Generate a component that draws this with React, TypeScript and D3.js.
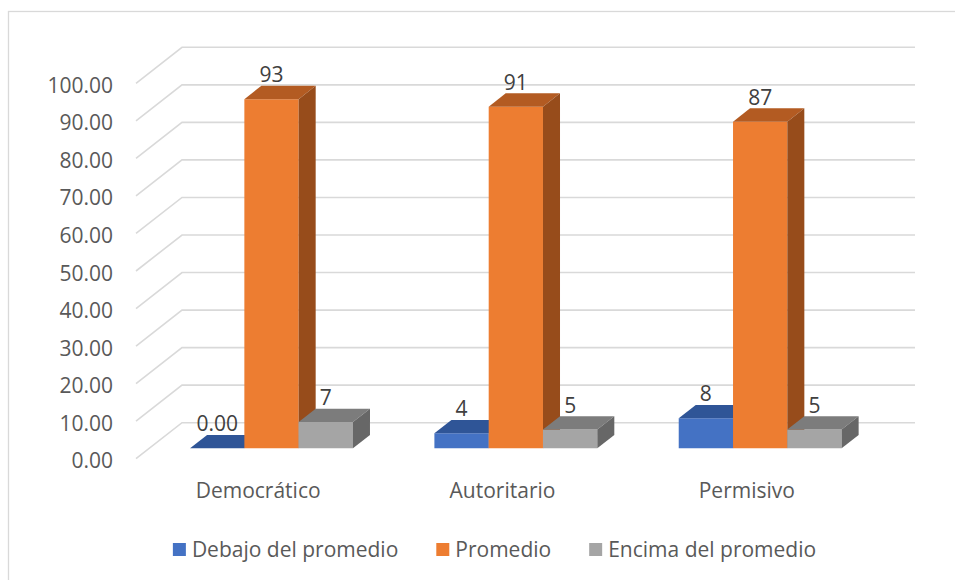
import { useEffect, useRef } from 'react'
import * as d3 from 'd3'

const categories = ['Democrático', 'Autoritario', 'Permisivo']
const seriesNames = ['Debajo del promedio', 'Promedio', 'Encima del promedio']
const debajo = [0, 4, 8]
const promedio = [93, 91, 87]
const encima = [7, 5, 5]
const yTicks = [0, 10, 20, 30, 40, 50, 60, 70, 80, 90, 100]

const seriesValues = [debajo, promedio, encima]
const faceColors = [
  { front: '#4472C4', top: '#2F5597', side: '#2B4E8C' },
  { front: '#ED7D31', top: '#B35B22', side: '#974C1B' },
  { front: '#A5A5A5', top: '#7C7C7C', side: '#676767' },
]

const W = 955
const H = 580
const FONT = '"Open Sans", "Noto Sans", sans-serif'

export default function App() {
  const svgRef = useRef<SVGSVGElement>(null)

  useEffect(() => {
    if (!svgRef.current) return
    const svg = d3.select(svgRef.current)
    svg.selectAll('*').remove()

    // depth of the 3D box (front -> back)
    const depthX = 46
    const depthY = 36
    const backLeft = 182
    const backRight = 915

    const yBack = d3.scaleLinear().domain([0, 100]).range([422.7, 47.3])
    const xFront = d3.scaleBand<string>()
      .domain(categories)
      .range([backLeft - depthX, backRight - depthX])
    const xSeries = d3.scaleBand<string>()
      .domain(seriesNames)
      .range([0, xFront.bandwidth()])
      .paddingInner(0)
      .paddingOuter(0.75)

    const d0 = 0.29
    const d1 = 0.66
    const proj = (x: number, v: number, d: number): [number, number] =>
      [x + depthX * d, yBack(v) + depthY * (1 - d)]

    // chart border
    svg.append('rect')
      .attr('x', 8.5).attr('y', 11.5)
      .attr('width', W + 20).attr('height', H + 20)
      .attr('fill', 'white')
      .attr('stroke', '#d9d9d9')
      .attr('stroke-width', 1.3)

    // gridlines: back wall + side wall diagonal
    const grid = svg.append('g')
      .attr('stroke', '#d9d9d9')
      .attr('stroke-width', 1.6)
      .attr('fill', 'none')
    yTicks.forEach(t => {
      const yb = yBack(t)
      grid.append('path')
        .attr('d', `M${backLeft - depthX},${yb + depthY}L${backLeft},${yb}L${backRight},${yb}`)
    })

    // y tick labels
    svg.append('g')
      .selectAll('text')
      .data(yTicks)
      .enter().append('text')
      .attr('x', 113)
      .attr('y', d => yBack(d) + depthY + 9.5)
      .attr('text-anchor', 'end')
      .style('font-family', FONT)
      .style('font-size', '21px')
      .style('fill', '#595959')
      .text(d => d3.format('.2f')(d))

    // category labels
    svg.append('g')
      .selectAll('text')
      .data(categories)
      .enter().append('text')
      .attr('x', d => (xFront(d) as number) + xFront.bandwidth() / 2)
      .attr('y', yBack(0) + depthY + 39.5)
      .attr('text-anchor', 'middle')
      .style('font-family', FONT)
      .style('font-size', '21px')
      .style('fill', '#595959')
      .text(d => d)

    // bars
    const poly = (pts: [number, number][]) => 'M' + pts.map(p => p.join(',')).join('L') + 'Z'
    const bars = svg.append('g')
    const labels: { x: number; y: number; text: string }[] = []
    categories.forEach((cat, ci) => {
      seriesNames.forEach((s, si) => {
        const v = seriesValues[si][ci]
        const x0 = (xFront(cat) as number) + (xSeries(s) as number)
        const x1 = x0 + xSeries.bandwidth()
        const c = faceColors[si]
        if (v > 0) {
          bars.append('path')
            .attr('d', poly([proj(x0, v, d0), proj(x1, v, d0), proj(x1, 0, d0), proj(x0, 0, d0)]))
            .attr('fill', c.front)
        }
        bars.append('path')
          .attr('d', poly([proj(x0, v, d0), proj(x1, v, d0), proj(x1, v, d1), proj(x0, v, d1)]))
          .attr('fill', c.top)
        if (v > 0) {
          bars.append('path')
            .attr('d', poly([proj(x1, v, d0), proj(x1, v, d1), proj(x1, 0, d1), proj(x1, 0, d0)]))
            .attr('fill', c.side)
        }
        labels.push({
          x: (x0 + x1) / 2 + depthX * d0,
          y: proj(x0, v, d1)[1] - 3.5,
          text: v === 0 ? '0.00' : d3.format('.0f')(v),
        })
      })
    })

    // data labels
    svg.append('g')
      .selectAll('text')
      .data(labels)
      .enter().append('text')
      .attr('x', d => d.x)
      .attr('y', d => d.y)
      .attr('text-anchor', 'middle')
      .style('font-family', FONT)
      .style('font-size', '21px')
      .style('fill', '#404040')
      .text(d => d.text)

    // legend
    const legend = svg.append('g')
    const items = legend.selectAll('.legend-item')
      .data(seriesNames)
      .enter().append('g')
      .attr('class', 'legend-item')
    items.append('rect')
      .attr('width', 13)
      .attr('height', 13)
      .attr('y', 543)
      .attr('fill', (d, i) => faceColors[i].front)
    items.append('text')
      .attr('x', 19)
      .attr('y', 556.5)
      .style('font-family', FONT)
      .style('font-size', '21px')
      .style('fill', '#595959')
      .text(d => d)
    const widths: number[] = []
    items.select('text').each(function () {
      widths.push(19 + (this as SVGTextElement).getComputedTextLength())
    })
    const gap = 38
    const total = d3.sum(widths) + gap * (widths.length - 1)
    let cx = 494.5 - total / 2
    items.each(function (d, i) {
      d3.select(this).attr('transform', `translate(${cx},0)`)
      cx += widths[i] + gap
    })
  }, [])

  return (
    <svg
      ref={svgRef}
      width={W}
      height={H}
      style={{ position: 'absolute', left: 0, top: 0, background: 'white' }}
    />
  )
}
